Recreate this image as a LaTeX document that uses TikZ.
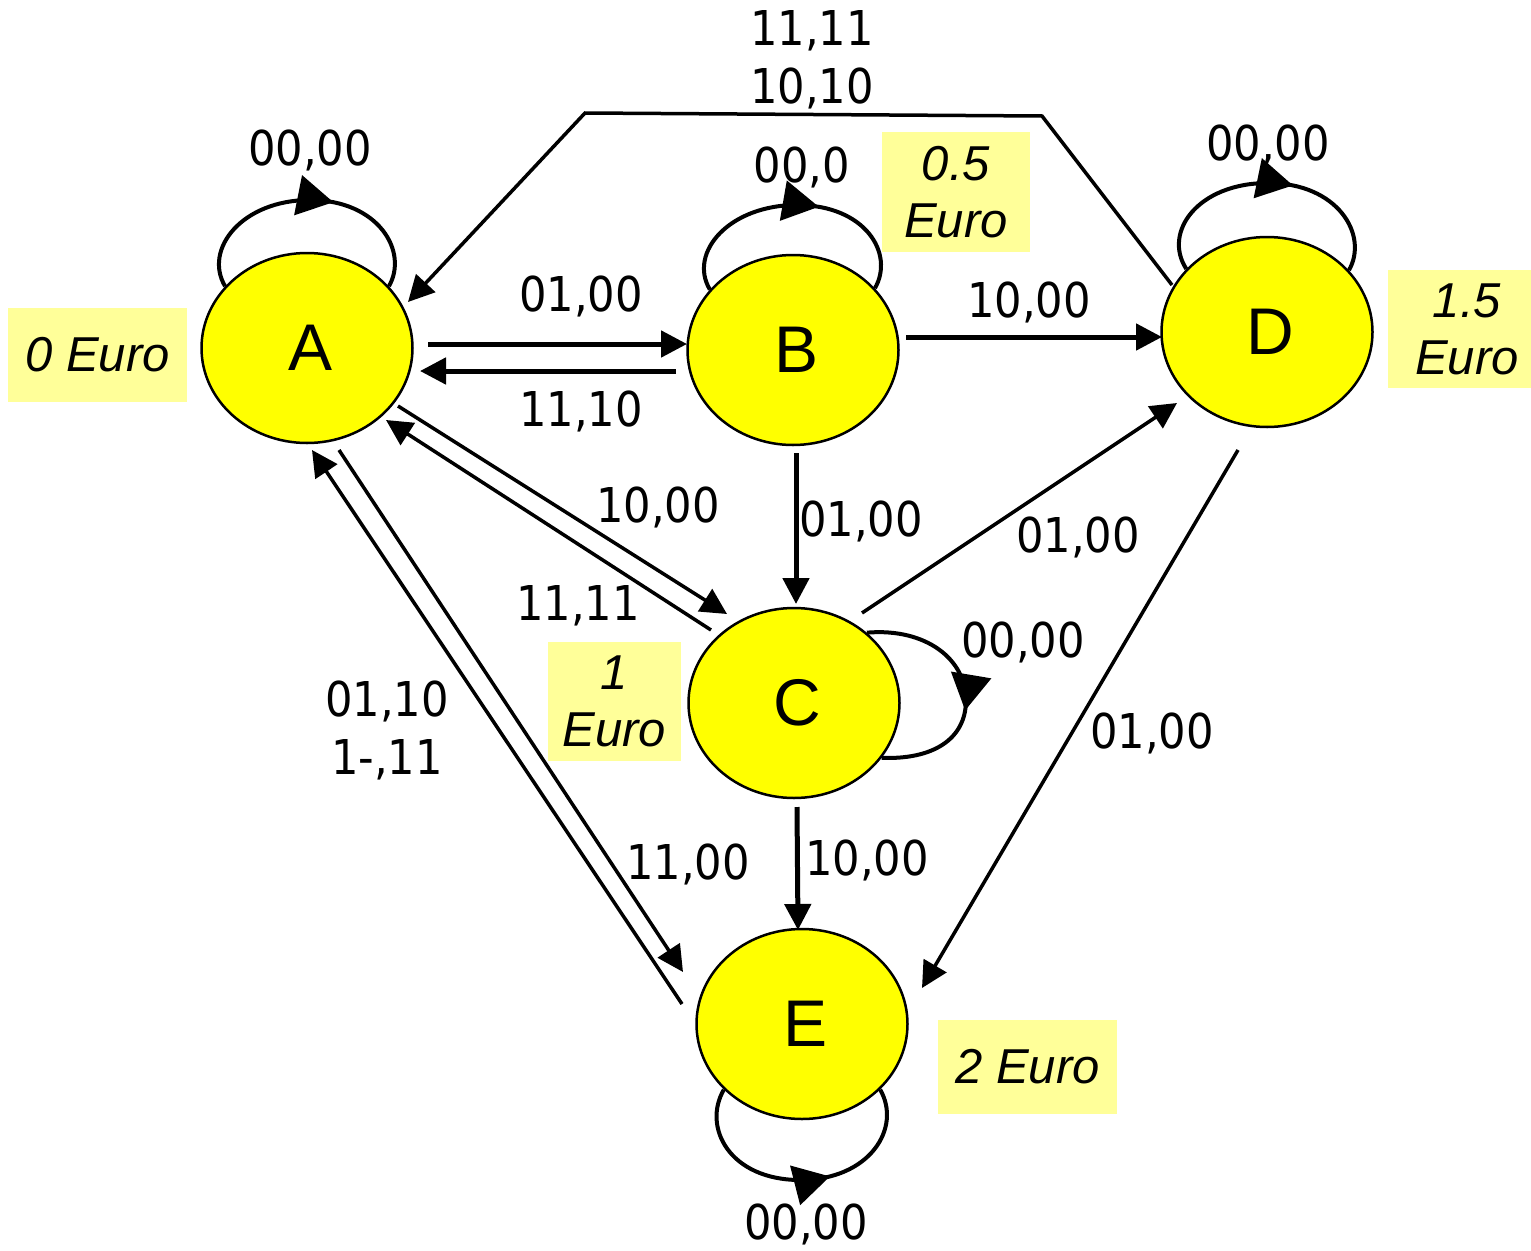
\documentclass[tikz,border=0pt]{standalone}
\usepackage{fontspec}
\setmainfont{Liberation Sans}
\newfontfamily\lblfont[FakeStretch=0.9]{DejaVu Sans}
\usetikzlibrary{shapes.geometric,arrows.meta,decorations.markings,calc}
\definecolor{statefill}{RGB}{255,255,0}
\definecolor{notefill}{RGB}{255,255,153}
\newcommand{\stname}[1]{\hspace*{7pt}#1}
\tikzset{
  stnode/.style={ellipse, draw=black, line width=2.5pt, fill=statefill,
    minimum width=211pt, minimum height=190pt, inner sep=0pt,
    font=\fontsize{66}{70}\selectfont},
  lbl/.style={font=\lblfont\fontsize{48}{58}\selectfont, align=center,
    inner sep=0pt, text depth=0pt},
  eurobox/.style={fill=notefill, inner sep=0pt, align=center,
    font=\fontsize{49}{57}\selectfont\itshape},
  conn/.style={line width=3.5pt, -{Triangle[length=26pt,width=26pt]}},
  thickconn/.style={conn, line width=5pt},
  loopln/.style={line width=4pt, postaction={decorate},
    decoration={markings,
      mark=at position #1 with {\arrow{Triangle[length=36pt,width=40pt]}}}},
}
\begin{document}
\begin{tikzpicture}[x=1pt,y=-1pt]
\path[use as bounding box, fill=white] (0,0) rectangle (1531,1250);

% states
\node[stnode] (A) at (307,348) {\stname{A}};
\node[stnode] (B) at (793,350) {\stname{B}};
\node[stnode] (C) at (794,703) {\stname{C}};
\node[stnode] (D) at (1267,332) {\stname{D}};
\node[stnode] (E) at (802,1024) {\stname{E}};

% amounts paid so far
\node[eurobox, minimum width=179pt, minimum height=94pt] (eA) at (97.5,355) {0 Euro};
\node[eurobox, minimum width=148pt, minimum height=120pt] (eB) at (956,192) {0.5\\Euro};
\node[eurobox, minimum width=158pt, minimum height=118pt] (eD) at (1467,329) {1.5\\Euro};
\node[eurobox, minimum width=133pt, minimum height=119pt] (eC) at (614.5,701.5) {1\\Euro};
\node[eurobox, minimum width=179pt, minimum height=94pt] (eE) at (1027.5,1067) {2 Euro};

% self loops
\draw[loopln=0.59] (A.143) .. controls +(-22,-37) and +(-68,0) .. ($(A)+(3,-148)$)
  .. controls +(68,0) and +(20,-35) .. (A.37);
\draw[loopln=0.59] (B.144) .. controls +(-22,-37) and +(-68,0) .. ($(B)+(4,-145)$)
  .. controls +(68,0) and +(20,-35) .. (B.37);
\draw[loopln=0.59] (D.142) .. controls +(-24,-37) and +(-70,0) .. ($(D)+(1,-149)$)
  .. controls +(70,0) and +(20,-35) .. (D.37);
\draw[loopln=0.60] (E.220) .. controls +(-22,38) and +(-70,0) .. ($(E)+(-2,156)$)
  .. controls +(70,0) and +(22,38) .. (E.320);
\draw[loopln=0.58] (C.44) .. controls +(60,-5) and +(0,-40) .. ($(C)+(172,-3)$)
  .. controls +(0,40) and +(50,2) .. (C.328);

% transitions
\draw[thickconn] ($(A)+(121,-4)$) -- ($(B)+(-106,-6)$);
\draw[thickconn] ($(B)+(-117,21)$) -- ($(A)+(113,23)$);
\draw[thickconn] ($(B)+(113,-13)$) -- ($(D)+(-105,5)$);
\draw[thickconn] ($(B)+(3,103)$) -- ($(C)+(2,-99)$);
\draw[thickconn] ($(C)+(3,104)$) -- ($(E)+(-4,-94)$);
\draw[conn] ($(A)+(91,58)$) -- ($(C)+(-67,-89)$);
\draw[conn] ($(C)+(-83,-73)$) -- ($(A)+(79,72)$);
\draw[conn] ($(A)+(32,102)$) -- ($(E)+(-119,-52)$);
\draw[conn] ($(E)+(-120,-20)$) -- ($(A)+(5,102)$);
\draw[conn] ($(C)+(68,-90)$) -- ($(D)+(-90,71)$);
\draw[conn] ($(D)+(-29,118)$) -- ($(E)+(120,-36)$);
\draw[conn] ($(D)+(-95,-47)$) -- (1042,116) -- (585,113) -- ($(A)+(101,-46)$);

% transition labels (input,output)
\node[lbl] (tAA) at (310,148) {00,00};
\node[lbl] (tBB) at (802,165) {00,0};
\node[lbl] (tDD) at (1268,143) {00,00};
\node[lbl] (tDA) at (812,57) {11,11\\10,10};
\node[lbl] (tAB) at (581,294) {01,00};
\node[lbl] (tBA) at (581,409) {11,10};
\node[lbl] (tBD) at (1029,300) {10,00};
\node[lbl] (tAC) at (658,505) {10,00};
\node[lbl] (tCA) at (578,603) {11,11};
\node[lbl] (tBC) at (861,519) {01,00};
\node[lbl] (tCD) at (1078,535) {01,00};
\node[lbl] (tCC) at (1023,640) {00,00};
\node[lbl] (tDE) at (1152,731) {01,00};
\node[lbl] (tEA) at (387,728) {01,10\\1-,11};
\node[lbl] (tAE) at (688,862) {11,00};
\node[lbl] (tCE) at (867,858) {10,00};
\node[lbl] (tEE) at (806,1222) {00,00};
\end{tikzpicture}
\end{document}
